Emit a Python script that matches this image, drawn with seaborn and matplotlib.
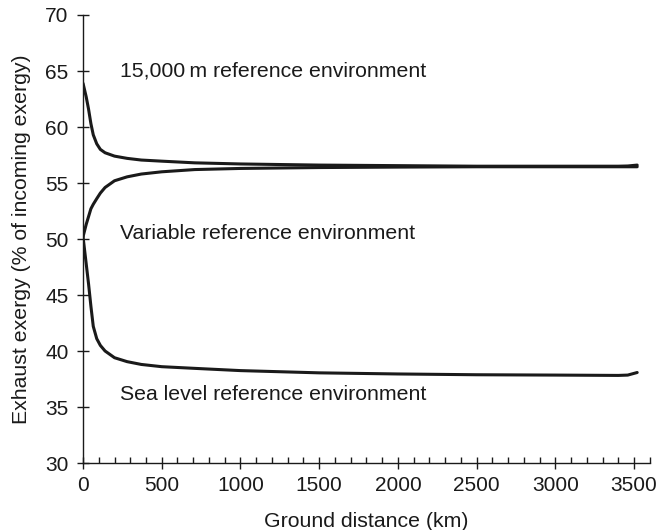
import numpy as np
import pandas as pd
import matplotlib
matplotlib.use("Agg")
import matplotlib.pyplot as plt
import seaborn as sns
from matplotlib.ticker import MultipleLocator

distance_km = [0, 20, 35, 50, 65, 87, 110, 140, 200, 280, 370, 500, 710,
               1000, 1500, 2000, 2500, 3000, 3400, 3460, 3520]
exergy_15000m = [63.9, 62.7, 61.6, 60.3, 59.3, 58.5, 58.0, 57.7, 57.4, 57.2,
                 57.05, 56.95, 56.8, 56.7, 56.6, 56.55, 56.5, 56.5, 56.5,
                 56.52, 56.6]
exergy_variable = [50.2, 51.3, 52.0, 52.7, 53.1, 53.6, 54.1, 54.6, 55.2, 55.55,
                   55.8, 56.0, 56.2, 56.3, 56.38, 56.42, 56.45, 56.45, 56.45,
                   56.45, 56.45]
exergy_sea_level = [50.2, 47.8, 46.0, 44.0, 42.2, 41.1, 40.5, 40.0, 39.4, 39.05,
                    38.8, 38.6, 38.45, 38.25, 38.05, 37.95, 37.88, 37.85, 37.82,
                    37.85, 38.08]
series_names = ["15,000\u2009m reference environment",
                "Variable reference environment",
                "Sea level reference environment"]
label_positions = [(235, 65.0), (235, 50.5), (235, 36.1)]

df = pd.concat([
    pd.DataFrame({"distance": distance_km, "exergy": vals, "series": name})
    for name, vals in zip(series_names,
                          [exergy_15000m, exergy_variable, exergy_sea_level])
])

sns.set_style("ticks")
plt.rcParams["font.family"] = ["Liberation Sans", "DejaVu Sans"]

fig = plt.figure(figsize=(6.59, 5.30), dpi=100)
ax = fig.add_axes([0.126, 0.1264, 0.860, 0.8453])

sns.lineplot(data=df, x="distance", y="exergy", hue="series",
             palette=["#1a1a1a"] * 3, linewidth=2.2, legend=False, ax=ax,
             sort=False)

for name, (x, y) in zip(series_names, label_positions):
    ax.text(x, y, name, fontsize=15.3, color="#1a1a1a", va="center", ha="left")

ax.set_xlim(0, 3600)
ax.set_ylim(30, 70)
ax.xaxis.set_minor_locator(MultipleLocator(100))
ax.yaxis.set_major_locator(MultipleLocator(5))
ax.set_xticks([0, 500, 1000, 1500, 2000, 2500, 3000, 3500])

ax.tick_params(axis="both", which="major", direction="inout", length=9,
               width=1, labelsize=15, colors="#1a1a1a")
ax.tick_params(axis="x", which="major", pad=5)
ax.tick_params(axis="y", which="major", pad=6)
ax.tick_params(axis="x", which="minor", direction="in", length=4, width=1,
               colors="#1a1a1a")
for s in ["left", "bottom"]:
    ax.spines[s].set_linewidth(1)
    ax.spines[s].set_color("#1a1a1a")
sns.despine(ax=ax)

ax.set_xlabel("Ground distance (km)", fontsize=15.3, color="#1a1a1a", labelpad=12)
ax.set_ylabel("Exhaust exergy (% of incoming exergy)", fontsize=15.3,
              color="#1a1a1a", labelpad=10)

fig.savefig("out.png", dpi=100)
